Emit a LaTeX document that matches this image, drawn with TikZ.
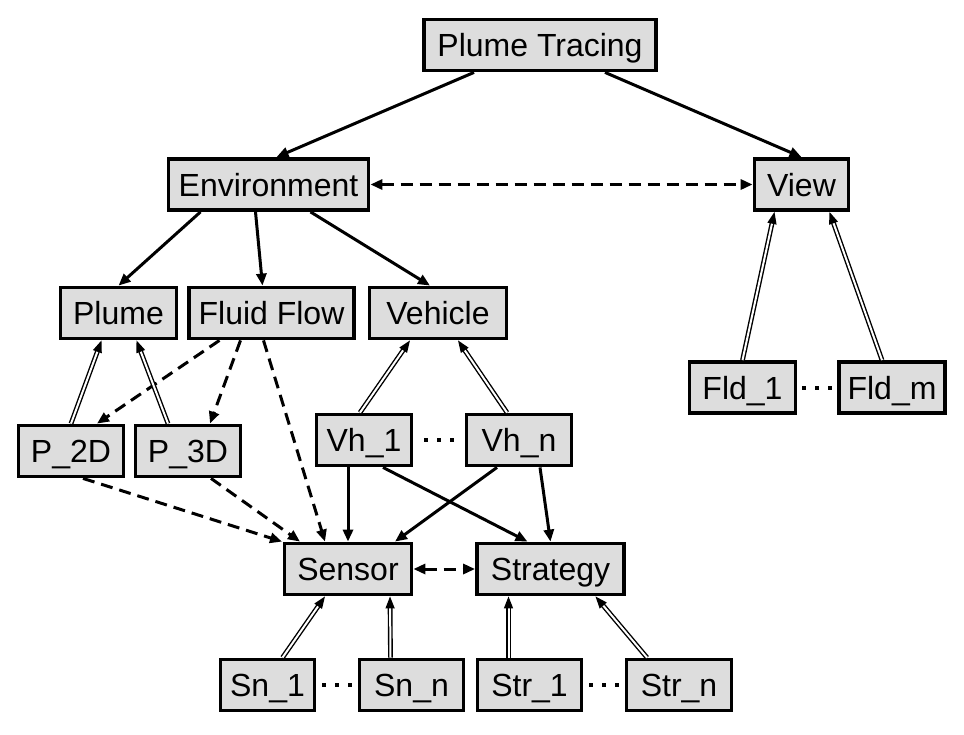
\documentclass[tikz,border=0pt]{standalone}
\usepackage{fontspec}
\setmainfont{Liberation Sans}
\usetikzlibrary{arrows.meta}
\definecolor{boxgray}{RGB}{221,221,221}
\begin{document}
\begin{tikzpicture}[x=1pt,y=-1pt,
  box/.style={draw, line width=3.8pt, fill=boxgray, inner sep=0pt,
    minimum height=51pt, text height=25.5pt, text depth=2.5pt,
    font=\fontsize{32}{37}\selectfont},
  tip/.style={-{Triangle[length=12pt,width=10pt]}},
  solidarr/.style={tip, line width=3pt},
  dasharr/.style={tip, line width=3pt, dash pattern=on 12pt off 7pt},
  bidash/.style={{Triangle[length=12pt,width=10pt]}-{Triangle[length=12pt,width=10pt]}, line width=3pt, dash pattern=on 12pt off 7pt},
  dblarr/.style={-{Triangle[length=12pt,width=9pt]}, double, line width=1.4pt, double distance=2pt},
  dotmark/.style={fill=black}
]
\useasboundingbox (0,0) rectangle (964,734);
% nodes
\node[box, minimum width=232pt] (PT) at (540,45) {Plume Tracing};
\node[box, minimum width=200pt] (Env) at (268.5,184.5) {Environment};
\node[box, minimum width=94pt] (View) at (801.5,184.5) {View};
\node[box, minimum width=116pt] (Plume) at (118.5,313) {Plume};
\node[box, minimum width=165pt] (Fluid) at (271.5,313) {Fluid Flow};
\node[box, minimum width=137pt] (Vehicle) at (438,313) {Vehicle};
\node[box, minimum width=105pt] (P2D) at (71,451) {P\_2D};
\node[box, minimum width=105pt] (P3D) at (188,451) {P\_3D};
\node[box, minimum width=95pt] (Vh1) at (364,440) {Vh\_1};
\node[box, minimum width=105pt] (Vhn) at (519,440) {Vh\_n};
\node[box, minimum width=127pt] (Sensor) at (348,569) {Sensor};
\node[box, minimum width=147pt] (Strategy) at (550.5,569) {Strategy};
\node[box, minimum width=94pt] (Sn1) at (267.5,685) {Sn\_1};
\node[box, minimum width=104pt] (Snn) at (411.5,685) {Sn\_n};
\node[box, minimum width=104pt] (Str1) at (529.5,685) {Str\_1};
\node[box, minimum width=105pt] (Strn) at (679,685) {Str\_n};
\node[box, minimum width=106pt] (Fld1) at (742.5,387.5) {Fld\_1};
\node[box, minimum width=106pt] (Fldm) at (892,387.5) {Fld\_m};
% solid arrows
\draw[solidarr] ([xshift=-66pt]PT.south) -- ([xshift=8pt]Env.north);
\draw[solidarr] ([xshift=65pt]PT.south) -- (View.north);
\draw[solidarr] ([xshift=-68pt]Env.south) -- (Plume.north);
\draw[solidarr] ([xshift=-13pt]Env.south) -- ([xshift=-9pt]Fluid.north);
\draw[solidarr] ([xshift=42pt]Env.south) -- ([xshift=-8pt]Vehicle.north);
\draw[solidarr] ([xshift=-16pt]Vh1.south) -- (Sensor.north);
\draw[solidarr] ([xshift=19pt]Vh1.south) -- ([xshift=-23pt]Strategy.north);
\draw[solidarr] ([xshift=-22pt]Vhn.south) -- ([xshift=47pt]Sensor.north);
\draw[solidarr] ([xshift=21pt]Vhn.south) -- (Strategy.north);
% dashed arrows
\draw[bidash] (Env.east) -- (View.west);
\draw[bidash] (Sensor.east) -- (Strategy.west);
\draw[dasharr] ([xshift=-52pt]Fluid.south) -- ([xshift=26pt]P2D.north);
\draw[dasharr] ([xshift=-31pt]Fluid.south) -- ([xshift=22pt]P3D.north);
\draw[dasharr] ([xshift=-8pt]Fluid.south) -- ([xshift=-23pt]Sensor.north);
\draw[dasharr] ([xshift=12pt]P2D.south) -- ([xshift=-66pt]Sensor.north);
\draw[dasharr] ([xshift=23pt]P3D.south) -- ([xshift=-48pt]Sensor.north);
% double arrows (inheritance)
\draw[dblarr] (P2D.north) -- ([xshift=-17pt]Plume.south);
\draw[dblarr] ([xshift=-20pt]P3D.north) -- ([xshift=18pt]Plume.south);
\draw[dblarr] ([xshift=-4pt]Vh1.north) -- ([xshift=-28pt]Vehicle.south);
\draw[dblarr] ([xshift=-12pt]Vhn.north) -- ([xshift=20pt]Vehicle.south);
\draw[dblarr] ([xshift=15pt]Sn1.north) -- ([xshift=-23pt]Sensor.south);
\draw[dblarr] ([xshift=-21pt]Snn.north) -- ([xshift=42pt]Sensor.south);
\draw[dblarr] ([xshift=-21pt]Str1.north) -- ([xshift=-42pt]Strategy.south);
\draw[dblarr] ([xshift=-32pt]Strn.north) -- ([xshift=45pt]Strategy.south);
\draw[dblarr] ([xshift=0pt]Fld1.north) -- ([xshift=-27pt]View.south);
\draw[dblarr] ([xshift=-10pt]Fldm.north) -- ([xshift=28pt]View.south);
% ellipsis dots
\foreach \a/\b in {Vh1/Vhn, Sn1/Snn, Str1/Strn, Fld1/Fldm}{
  \path (\a.east) -- (\b.west) coordinate[midway] (m);
  \foreach \d in {-13,0,13}
    \fill[dotmark] ([xshift=\d pt]m) ++(-2pt,-2pt) rectangle ++(4pt,4pt);
}
\end{tikzpicture}
\end{document}
